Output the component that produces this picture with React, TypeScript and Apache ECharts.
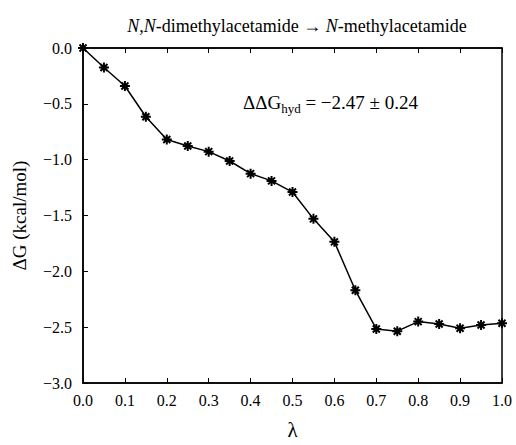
import React, { useEffect, useRef } from "react";
import * as echarts from "echarts";

const lambdas = [0, 0.05, 0.1, 0.15, 0.2, 0.25, 0.3, 0.35, 0.4, 0.45, 0.5, 0.55, 0.6, 0.65, 0.7, 0.75, 0.8, 0.85, 0.9, 0.95, 1.0];
const deltaG = [0, -0.175, -0.34, -0.616, -0.82, -0.878, -0.928, -1.012, -1.125, -1.19, -1.29, -1.53, -1.736, -2.17, -2.516, -2.536, -2.45, -2.472, -2.51, -2.48, -2.465];

const FONT = "serif";
const fmt = (v: number) => (v < 0 ? "\u2212" + Math.abs(v).toFixed(1) : v.toFixed(1));

export default function App() {
  const ref = useRef<HTMLDivElement>(null);
  useEffect(() => {
    document.body.style.margin = "0";
    const chart = echarts.init(ref.current!, null, { renderer: "svg" });
    const pts = lambdas.map((x, i) => [x, deltaG[i]]);
    chart.setOption({
      animation: false,
      backgroundColor: "#fff",
      title: [
        {
          text: "{i|N,N}{r|-dimethylacetamide \u2192 }{i|N}{r|-methylacetamide}",
          left: 292,
          top: 12,
          textAlign: "center",
          textStyle: {
            fontWeight: "normal",
            rich: {
              i: { fontFamily: FONT, fontSize: 18, fontStyle: "italic", color: "#000" },
              r: { fontFamily: FONT, fontSize: 18, color: "#000" },
            },
          },
        },
        {
          text: "{a|\u0394\u0394G}{s|hyd}{a| = \u22122.47 \u00b1 0.24}",
          left: 238,
          top: 84,
          textStyle: {
            fontWeight: "normal",
            rich: {
              a: { fontFamily: FONT, fontSize: 19, color: "#000", verticalAlign: "middle", lineHeight: 26 },
              s: { fontFamily: FONT, fontSize: 13, color: "#000", verticalAlign: "bottom", lineHeight: 12 },
            },
          },
        },
      ],
      grid: { left: 83, top: 48, width: 419, height: 343, show: true, borderColor: "#000", borderWidth: 1.5 },
      xAxis: [
        {
          type: "value",
          min: 0,
          max: 1,
          interval: 0.1,
          name: "\u03bb",
          nameLocation: "middle",
          nameGap: 36,
          nameTextStyle: { fontFamily: FONT, fontSize: 21, color: "#000" },
          axisLine: { show: true, onZero: false, lineStyle: { color: "#000", width: 1.5 } },
          axisTick: { show: true, inside: true, length: 5, lineStyle: { color: "#000" } },
          splitLine: { show: false },
          axisLabel: { fontFamily: FONT, fontSize: 16, color: "#000", margin: 9, formatter: (v: number) => fmt(v) },
        },
        {
          type: "value",
          position: "top",
          min: 0,
          max: 1,
          interval: 0.1,
          axisLine: { show: true, onZero: false, lineStyle: { color: "#000", width: 1.5 } },
          axisTick: { show: true, inside: true, length: 5, lineStyle: { color: "#000" } },
          splitLine: { show: false },
          axisLabel: { show: false },
        },
      ],
      yAxis: [
        {
          type: "value",
          min: -3,
          max: 0,
          interval: 0.5,
          name: "\u0394G (kcal/mol)",
          nameLocation: "middle",
          nameGap: 54,
          nameTextStyle: { fontFamily: FONT, fontSize: 19, color: "#000" },
          axisLine: { show: true, onZero: false, lineStyle: { color: "#000", width: 1.5 } },
          axisTick: { show: true, inside: true, length: 5, lineStyle: { color: "#000" } },
          splitLine: { show: false },
          axisLabel: { fontFamily: FONT, fontSize: 16, color: "#000", margin: 11, formatter: (v: number) => fmt(v) },
        },
      ],
      series: [
        {
          type: "line",
          data: pts,
          lineStyle: { color: "#000", width: 1.5 },
          symbol: "path://M5,0L5,10M0,5L10,5M1.5,1.5L8.5,8.5M1.5,8.5L8.5,1.5",
          symbolSize: 10,
          itemStyle: { color: "none", borderColor: "#000", borderWidth: 2 },
        },
      ],
    });
    return () => chart.dispose();
  }, []);
  return <div ref={ref} style={{ width: 516, height: 445 }} />;
}
